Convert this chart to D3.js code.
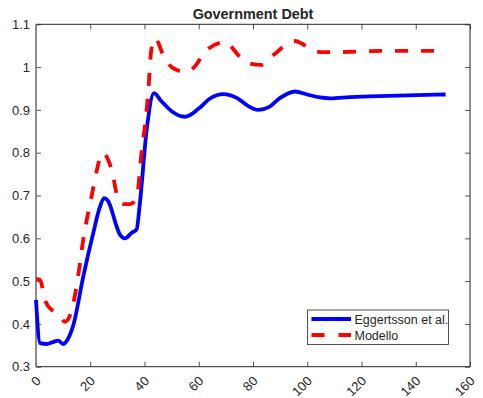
<!DOCTYPE html>
<html>
<head>
<meta charset="utf-8">
<script src="https://cdn.jsdelivr.net/npm/d3@7"></script>
<style>
  html, body { margin: 0; padding: 0; background: #fff; }
  svg { display: block; }
  text { font-family: "Liberation Sans", Arial, Helvetica, sans-serif; fill: #262626; }
</style>
</head>
<body>
<svg id="chart" width="483" height="398"></svg>
<script>
// Quarters after the shock
const eggX = [0, 1.5, 4, 6, 8.2, 10, 11.5, 13.8, 17.4, 21.1, 23.5, 25.1, 26.5, 27.9, 29.5, 31, 32.8, 35.3, 37.1, 38.3, 40.8, 43.5, 46, 50, 54.9, 60, 64, 69.1, 74, 78, 82, 86, 90, 95.5, 100, 104.7, 108.4, 115.8, 130, 151];
const eggY = [0.456, 0.355, 0.353, 0.357, 0.361, 0.353, 0.362, 0.398, 0.51, 0.612, 0.672, 0.694, 0.688, 0.666, 0.632, 0.608, 0.600, 0.613, 0.621, 0.682, 0.853, 0.939, 0.922, 0.897, 0.884, 0.903, 0.926, 0.937, 0.928, 0.910, 0.900, 0.907, 0.928, 0.943, 0.936, 0.929, 0.927, 0.930, 0.933, 0.936];

const modX = [0, 1.5, 3.3, 6.4, 9, 10.7, 13.2, 15, 17.4, 21.1, 23, 24.1, 25.5, 27.9, 30.4, 32.5, 34.7, 37.1, 39, 40.2, 41.4, 42.5, 43.9, 46.9, 50, 54.9, 58, 62.9, 69.7, 75.2, 79, 83.2, 87.5, 95.5, 98, 101, 105, 109.6, 128, 151];
const modY = [0.505, 0.503, 0.455, 0.429, 0.416, 0.405, 0.433, 0.49, 0.596, 0.717, 0.775, 0.799, 0.795, 0.760, 0.690, 0.680, 0.680, 0.694, 0.806, 0.865, 0.943, 1.04, 1.067, 1.028, 1.0, 0.989, 0.998, 1.04, 1.058, 1.024, 1.008, 1.005, 1.028, 1.061, 1.055, 1.042, 1.035, 1.035, 1.038, 1.038];

const xTicks = [0, 20, 40, 60, 80, 100, 120, 140, 160];
const yTicks = [0.3, 0.4, 0.5, 0.6, 0.7, 0.8, 0.9, 1.0, 1.1];
const seriesNames = ["Eggertsson et al.", "Modello"];
const titleText = "Government Debt";

const svg = d3.select("#chart");
const m = { left: 36, right: 470, top: 24.3, bottom: 366.7 };

const x = d3.scaleLinear().domain([0, 160]).range([m.left, m.right]);
const y = d3.scaleLinear().domain([0.3, 1.1]).range([m.bottom, m.top]);

const axisColor = "#262626";
const tickLen = 5;

// Axis ticks (inward, on all four sides like a boxed plot)
const axB = d3.axisBottom(x).tickValues(xTicks).tickSizeInner(-tickLen).tickSizeOuter(0).tickFormat(d3.format("d"));
const axT = d3.axisTop(x).tickValues(xTicks).tickSizeInner(-tickLen).tickSizeOuter(0).tickFormat("");
const axL = d3.axisLeft(y).tickValues(yTicks).tickSizeInner(-tickLen).tickSizeOuter(0).tickFormat(d => d3.format("")(+d.toFixed(1)));
const axR = d3.axisRight(y).tickValues(yTicks).tickSizeInner(-tickLen).tickSizeOuter(0).tickFormat("");

function styleAxis(g) {
  g.select(".domain").remove();
  g.selectAll(".tick line").attr("stroke", axisColor).attr("stroke-width", 0.8);
  g.selectAll(".tick text").attr("fill", axisColor).style("font-size", "13px")
    .style("font-family", '"Liberation Sans", Arial, sans-serif');
}

const gB = svg.append("g").attr("transform", `translate(0,${m.bottom})`).call(axB).call(styleAxis);
gB.selectAll(".tick text")
  .attr("text-anchor", "end")
  .attr("dy", null)
  .attr("y", 0)
  .attr("transform", "translate(5,15) rotate(-45)");

svg.append("g").attr("transform", `translate(0,${m.top})`).call(axT).call(styleAxis);
const gL = svg.append("g").attr("transform", `translate(${m.left},0)`).call(axL).call(styleAxis);
gL.selectAll(".tick text").attr("x", -6);
svg.append("g").attr("transform", `translate(${m.right},0)`).call(axR).call(styleAxis);

// Plot box: top, right and bottom edges dark, left edge softer and wider
svg.append("path")
  .attr("d", `M${m.left},${m.top}H${m.right}V${m.bottom}H${m.left}`)
  .attr("fill", "none").attr("stroke", axisColor).attr("stroke-width", 1);
svg.append("line")
  .attr("x1", m.left).attr("x2", m.left).attr("y1", m.top).attr("y2", m.bottom)
  .attr("stroke", "#808080").attr("stroke-width", 1.8);

// Series lines
const line = d3.line().x(d => x(d[0])).y(d => y(d[1])).curve(d3.curveMonotoneX);
const eggData = eggX.map((v, i) => [v, eggY[i]]);
const modData = modX.map((v, i) => [v, modY[i]]);

svg.append("path").datum(eggData)
  .attr("d", line).attr("fill", "none")
  .attr("stroke", "#0000ff").attr("stroke-width", 3.8)
  .attr("stroke-linejoin", "round");

svg.append("path").datum(modData)
  .attr("d", line).attr("fill", "none")
  .attr("stroke", "#ff0000").attr("stroke-width", 3.8)
  .attr("stroke-dasharray", "13,13");

// Title
svg.append("text")
  .attr("x", (m.left + m.right) / 2).attr("y", 19)
  .attr("text-anchor", "middle")
  .style("font-size", "14.4px").style("font-weight", "bold")
  .attr("fill", "#000")
  .text(titleText);

// Legend
const lg = svg.append("g");
lg.append("rect")
  .attr("x", 307.5).attr("y", 310).attr("width", 141).attr("height", 34.5)
  .attr("fill", "#fff").attr("stroke", axisColor).attr("stroke-width", 0.8);
const legendRows = [
  { name: seriesNames[0], color: "#0000ff", dash: null, cy: 319 },
  { name: seriesNames[1], color: "#ff0000", dash: "13,14", cy: 335 }
];
legendRows.forEach(r => {
  const l = lg.append("line")
    .attr("x1", 311.5).attr("x2", 351).attr("y1", r.cy).attr("y2", r.cy)
    .attr("stroke", r.color).attr("stroke-width", 3.8);
  if (r.dash) l.attr("stroke-dasharray", r.dash);
  lg.append("text")
    .attr("x", 354.5).attr("y", r.cy + 4.5)
    .style("font-size", "12.5px")
    .attr("fill", "#000")
    .text(r.name);
});
</script>
</body>
</html>
